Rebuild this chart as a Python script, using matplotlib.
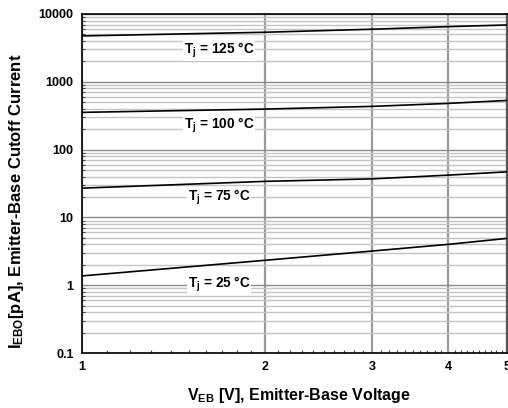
import numpy as np
import matplotlib
matplotlib.use("Agg")
import matplotlib.pyplot as plt
from matplotlib.ticker import FixedLocator, FixedFormatter, LogLocator, NullFormatter

plt.rcParams['font.family'] = ['Liberation Sans', 'DejaVu Sans']
plt.rcParams['font.weight'] = 'bold'
plt.rcParams['mathtext.fontset'] = 'custom'
plt.rcParams['mathtext.rm'] = 'Liberation Sans:bold'
plt.rcParams['mathtext.it'] = 'Liberation Sans:bold'
plt.rcParams['mathtext.bf'] = 'Liberation Sans:bold'
plt.rcParams['mathtext.default'] = 'rm'

# data
v_eb = [1, 2, 3, 4, 5]
i_125 = [4750, 5380, 5960, 6510, 6890]
i_100 = [354, 396, 434, 480, 531]
i_75 = [27, 34, 37, 42, 47]
i_25 = [1.37, 2.33, 3.19, 4.0, 4.9]

curves = [i_125, i_100, i_75, i_25]
labels = [r"T$_{j}$ = 125 °C", r"T$_{j}$ = 100 °C", r"T$_{j}$ = 75 °C", r"T$_{j}$ = 25 °C"]
label_y = [2900, 225, 20, 1.04]
label_x = 1.68

x_ticks = [1, 2, 3, 4, 5]
y_ticks = [0.1, 1, 10, 100, 1000, 10000]
y_ticklabels = ["0.1", "1", "10", "100", "1000", "10000"]

fig = plt.figure(figsize=(5.08, 4.08), dpi=100)
ax = fig.add_axes([82 / 508, 1 - 353 / 408, 425 / 508, 339 / 408])

ax.set_xscale('log')
ax.set_yscale('log')
ax.set_xlim(1, 5)
ax.set_ylim(0.1, 10000)

# ticks and grid
ax.yaxis.set_minor_locator(LogLocator(base=10, subs=np.arange(2, 10)))
ax.yaxis.set_minor_formatter(NullFormatter())
ax.xaxis.set_major_locator(FixedLocator(x_ticks))
ax.xaxis.set_major_formatter(FixedFormatter([str(v) for v in x_ticks]))
ax.xaxis.set_minor_locator(FixedLocator(np.arange(1.1, 5.0, 0.1)))
ax.xaxis.set_minor_formatter(NullFormatter())
ax.yaxis.set_major_locator(FixedLocator(y_ticks))
ax.yaxis.set_major_formatter(FixedFormatter(y_ticklabels))

ax.grid(which='minor', axis='y', color='#c4c4c4', lw=1.0)
ax.grid(which='major', axis='y', color='#8c8c8c', lw=1.0)
ax.grid(which='major', axis='x', color='#9a9a9a', lw=1.6)
ax.set_axisbelow(True)

for c in curves:
    ax.plot(v_eb, c, color='black', lw=1.2, zorder=3)

for lab, ly in zip(labels, label_y):
    ax.text(label_x, ly, lab, ha='center', va='center', fontsize=9.8,
            fontweight='bold', zorder=4,
            bbox=dict(facecolor='white', edgecolor='none', pad=0.5))

ax.tick_params(which='major', length=0, pad=6, labelsize=9)
ax.tick_params(which='minor', direction='in', length=2.5, width=0.8, color='#444444')
for lab in ax.get_xticklabels() + ax.get_yticklabels():
    lab.set_fontweight('bold')

for s in ['left', 'bottom', 'top']:
    ax.spines[s].set_color('black')
    ax.spines[s].set_linewidth(1.2)
ax.spines['right'].set_color('#555555')
ax.spines['right'].set_linewidth(1.5)

ax.set_xlabel(r"V$_{EB}$ [V], Emitter-Base Voltage", fontsize=11.5, fontweight='bold')
ax.set_ylabel(r"I$_{EBO}$[pA], Emitter-Base Cutoff Current", fontsize=12, fontweight='bold')
ax.xaxis.set_label_coords(0.511, -0.097)
ax.yaxis.set_label_coords(-0.132, 0.448)

fig.savefig('out.png', dpi=100)
